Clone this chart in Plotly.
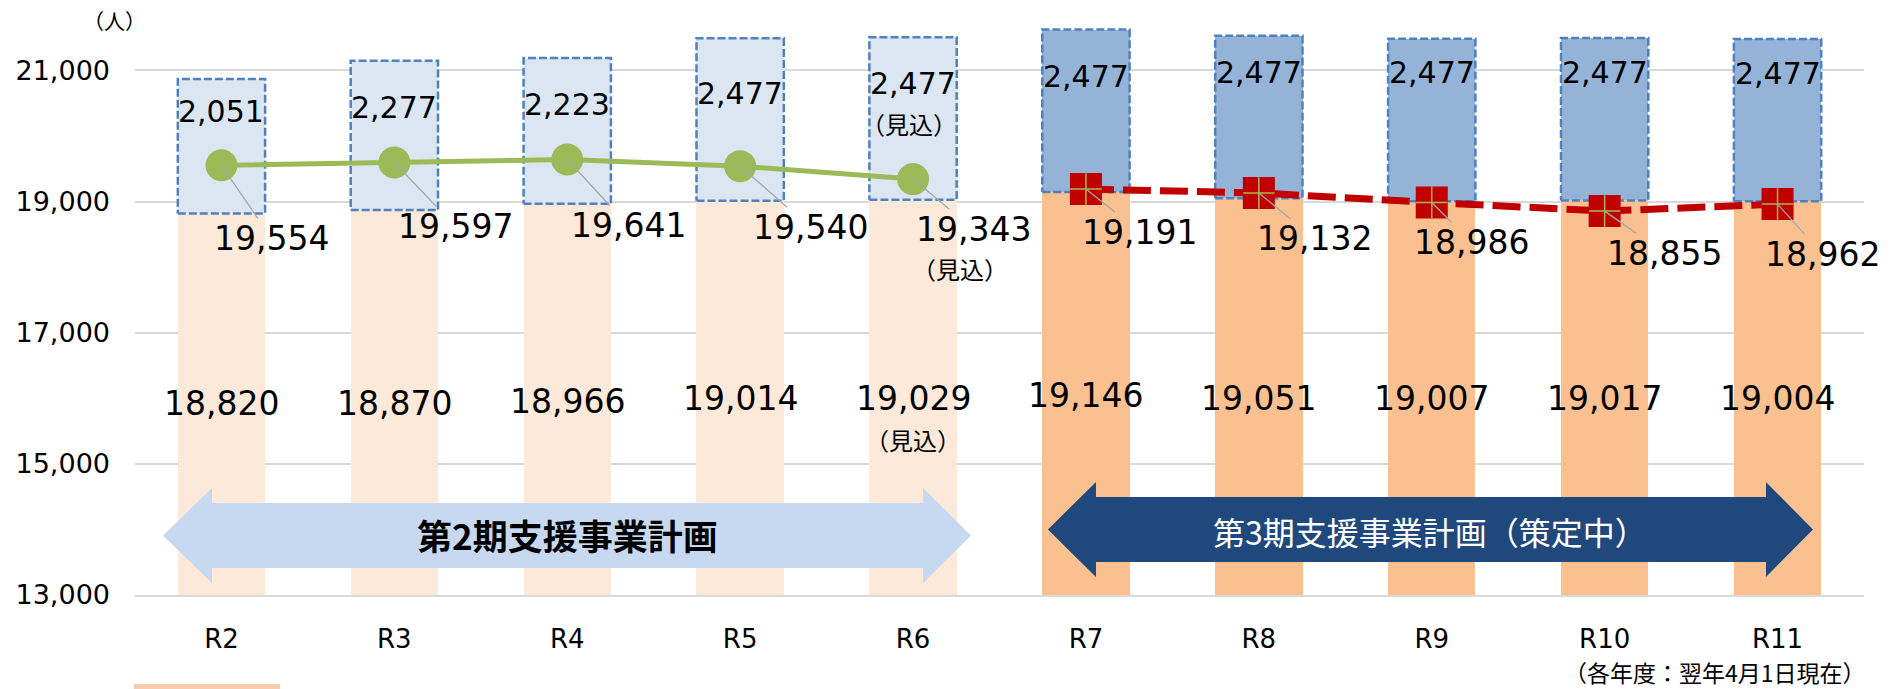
import plotly.graph_objects as go

# ---------------- data ----------------
categories = ["R2", "R3", "R4", "R5", "R6", "R7", "R8", "R9", "R10", "R11"]
base_values = [18820, 18870, 18966, 19014, 19029, 19146, 19051, 19007, 19017, 19004]
box_values = [2051, 2277, 2223, 2477, 2477, 2477, 2477, 2477, 2477, 2477]
actual_totals = [19554, 19597, 19641, 19540, 19343]      # R2-R6 (green line)
plan_totals = [19191, 19132, 18986, 18855, 18962]        # R7-R11 (red dashed line)
n_actual = 5
estimate_index = 4                                        # R6 = 見込
y_ticks = [13000, 15000, 17000, 19000, 21000]
unit_label = "（人）"
note_label = "（各年度：翌年4月1日現在）"
estimate_label = "（見込）"
period2_label = "第2期支援事業計画"
period3_label = "第3期支援事業計画（策定中）"

# ---------------- styles / positions ----------------
NUM_FONT = "DejaVu Sans"
JP_FONT = "Noto Sans CJK JP"
BASE_LIGHT, BASE_DARK = "#FDE9D9", "#FAC090"
BOX_LIGHT, BOX_DARK = "#DCE6F2", "#95B3D7"
BORDER = "#4F81BD"
GREEN, RED = "#9BBB59", "#C00000"
ARROW_LIGHT, ARROW_DARK = "#C6D9F1", "#1F497D"
BAR_W = 0.505

# label offsets (pixels)
line_label_offsets = [(50, 73), (61, 64), (61, 66), (70, 61), (60, 50),
                      (54, 43), (56, 46), (40, 40), (60, 42), (45, 50)]
box_label_drop = [33, 47, 46, 55, 46, 47, 37, 34, 34, 35]
base_label_y = 16000
base_label_shift = [-5, -5, -3, 0, 0, 3, 0, 0, 0, 0]

idx = list(range(len(categories)))
n = len(categories)
base_colors = [BASE_LIGHT if i < n_actual else BASE_DARK for i in idx]
box_colors = [BOX_LIGHT if i < n_actual else BOX_DARK for i in idx]
tops = [b + v for b, v in zip(base_values, box_values)]

fig = go.Figure()

fig.add_trace(go.Bar(x=idx, y=base_values, width=BAR_W,
                     marker=dict(color=base_colors, line=dict(width=0)),
                     showlegend=False, hoverinfo="skip"))
fig.add_trace(go.Bar(x=idx, y=box_values, base=base_values, width=BAR_W,
                     marker=dict(color=box_colors, line=dict(width=0)),
                     showlegend=False, hoverinfo="skip"))

# dashed borders of the boxes
bx, by = [], []
for i in idx:
    x0, x1 = i - BAR_W / 2, i + BAR_W / 2
    bx += [x0, x1, x1, x0, x0, None]
    by += [base_values[i], base_values[i], tops[i], tops[i], base_values[i], None]
fig.add_trace(go.Scatter(x=bx, y=by, mode="lines",
                         line=dict(color=BORDER, width=2.5, dash="8px,3px"),
                         showlegend=False, hoverinfo="skip"))

# lines
fig.add_trace(go.Scatter(x=idx[:n_actual], y=actual_totals, mode="lines+markers",
                         line=dict(color=GREEN, width=5),
                         marker=dict(color=GREEN, size=32, symbol="circle"),
                         showlegend=False, hoverinfo="skip"))
fig.add_trace(go.Scatter(x=idx[n_actual:], y=plan_totals, mode="lines+markers",
                         line=dict(color=RED, width=7, dash="28px,9px"),
                         marker=dict(color=RED, size=32, symbol="square"),
                         showlegend=False, hoverinfo="skip"))
fig.add_trace(go.Scatter(x=idx[n_actual:], y=plan_totals, mode="markers",
                         marker=dict(symbol="cross-thin", size=22.5,
                                     line=dict(color="#A9B84A", width=1.5)),
                         showlegend=False, hoverinfo="skip"))

annotations = []
line_values = actual_totals + plan_totals
for i, v in enumerate(line_values):
    dx, dy = line_label_offsets[i]
    annotations.append(dict(x=i, y=v, xref="x", yref="y", text=f"{v:,}",
                            showarrow=True, arrowhead=0, arrowwidth=1.3,
                            arrowcolor="#A6A6A6", ax=dx, ay=dy, standoff=0,
                            borderpad=0,
                            font=dict(family=NUM_FONT, size=33, color="black")))
# 見込 under line label R6
annotations.append(dict(x=estimate_index, y=line_values[estimate_index], xref="x", yref="y",
                        text=estimate_label, showarrow=False, xshift=47, yshift=-89,
                        borderpad=0,
                        font=dict(family=JP_FONT, size=24, color="black")))

for i in idx:
    annotations.append(dict(x=i, y=tops[i], xref="x", yref="y", text=f"{box_values[i]:,}",
                            showarrow=False, yanchor="middle", yshift=-box_label_drop[i],
                            font=dict(family=NUM_FONT, size=30, color="black")))
    annotations.append(dict(x=i, y=base_label_y, xref="x", yref="y", text=f"{base_values[i]:,}",
                            showarrow=False, yanchor="middle", yshift=base_label_shift[i],
                            borderpad=0,
                            font=dict(family=NUM_FONT, size=33, color="black")))
annotations.append(dict(x=estimate_index, y=tops[estimate_index], xref="x", yref="y",
                        text=estimate_label, showarrow=False, yanchor="middle",
                        xshift=-4, yshift=-86, borderpad=0,
                        font=dict(family=JP_FONT, size=24, color="black")))
annotations.append(dict(x=estimate_index, y=base_label_y, xref="x", yref="y",
                        text=estimate_label, showarrow=False, yanchor="middle",
                        yshift=-41, borderpad=0,
                        font=dict(family=JP_FONT, size=24, color="black")))

# arrows
def arrow_path(xl_tip, xl_back, xr_back, xr_tip, yc, yh, ys):
    pts = [(xl_tip, yc), (xl_back, yc + yh), (xl_back, yc + ys), (xr_back, yc + ys),
           (xr_back, yc + yh), (xr_tip, yc), (xr_back, yc - yh), (xr_back, yc - ys),
           (xl_back, yc - ys), (xl_back, yc - yh)]
    return "M " + " L ".join(f"{x},{y}" for x, y in pts) + " Z"

arrow2 = dict(xl_tip=-0.338, xl_back=-0.055, xr_back=4.058, xr_tip=4.335,
              yc=13907, yh=725, ys=496)
arrow3 = dict(xl_tip=4.780, xl_back=5.058, xr_back=8.933, xr_tip=9.205,
              yc=13999, yh=725, ys=496)
shapes = [
    dict(type="path", xref="x", yref="y", path=arrow_path(**arrow2),
         fillcolor=ARROW_LIGHT, line=dict(width=0), layer="above"),
    dict(type="path", xref="x", yref="y", path=arrow_path(**arrow3),
         fillcolor=ARROW_DARK, line=dict(width=0), layer="above"),
    # partially visible legend swatch at bottom
    dict(type="rect", xref="paper", yref="paper", x0=-0.0006, x1=0.0839,
         y0=-0.1542, y1=-0.2, fillcolor="#F8CBAD", line=dict(width=0)),
]
annotations.append(dict(x=2.0, y=13930, xref="x", yref="y", text=f"<b>{period2_label}</b>",
                        showarrow=False, font=dict(family=JP_FONT, size=35, color="black")))
annotations.append(dict(x=6.99, y=13976, xref="x", yref="y", text=period3_label,
                        showarrow=False, font=dict(family=JP_FONT, size=32, color="white")))
annotations.append(dict(x=-0.0121, y=0.9965, xref="paper", yref="paper", text=unit_label,
                        showarrow=False, xanchor="center", yanchor="middle",
                        font=dict(family=JP_FONT, size=21, color="black")))
annotations.append(dict(x=0.914, y=-0.1334, xref="paper", yref="paper", text=note_label,
                        showarrow=False, xanchor="center", yanchor="middle",
                        font=dict(family=JP_FONT, size=23, color="black")))

fig.update_layout(
    width=1904, height=689,
    margin=dict(l=135, r=40, t=18, b=94),
    plot_bgcolor="white", paper_bgcolor="white",
    barmode="overlay", bargap=0,
    showlegend=False,
    annotations=annotations, shapes=shapes,
    xaxis=dict(range=[-0.5, n - 0.5], tickvals=idx, ticktext=categories,
               showgrid=False, zeroline=False, showline=True,
               linecolor="#D9D9D9", linewidth=2, ticks="",
               ticklabelstandoff=20,
               tickfont=dict(family=NUM_FONT, size=26, color="black")),
    yaxis=dict(range=[13000, 21800], tickvals=y_ticks, tickformat=",",
               showgrid=True, gridcolor="#D9D9D9", gridwidth=1.5,
               zeroline=False, showline=False, ticks="",
               ticklabelstandoff=24,
               tickfont=dict(family=NUM_FONT, size=27, color="black")),
)

fig.write_html("out.html")
